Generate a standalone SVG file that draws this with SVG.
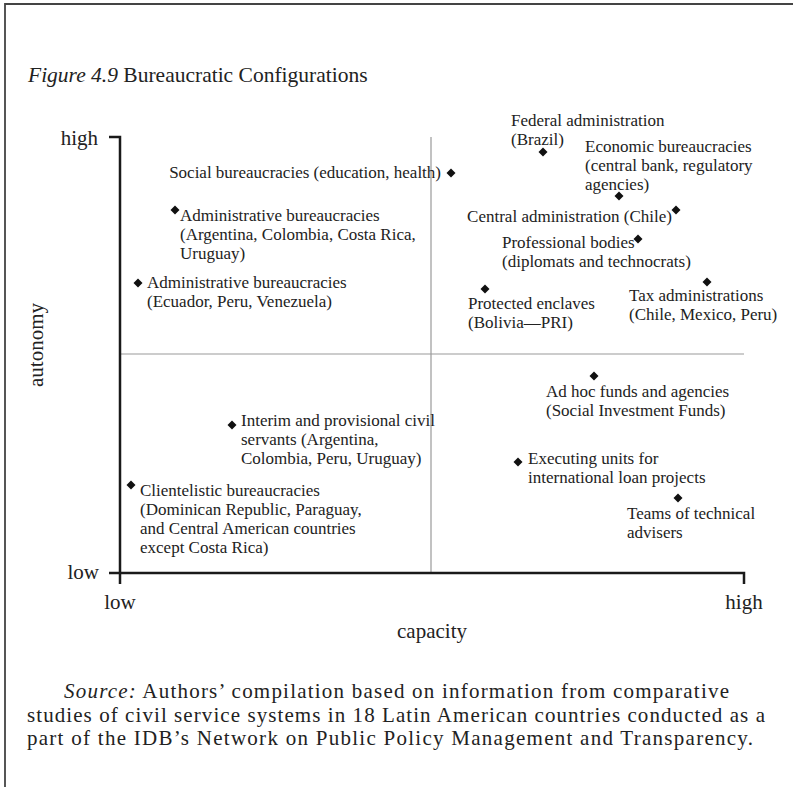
<svg xmlns="http://www.w3.org/2000/svg" width="793" height="787" viewBox="0 0 793 787">
<style>
text{font-family:"Liberation Serif","Times New Roman",serif;fill:#222}
.t{font-size:17px}
.ax{font-size:21px}
.ti{font-size:21.5px}
.src{font-size:21px}
.axis{stroke:#1a1a1a;stroke-width:2.5;fill:none}
.grid{stroke:#999;stroke-width:1.2;fill:none}
.frame{stroke:#444;stroke-width:1.8;fill:none}
</style>
<defs>
<path id="dia" d="M0,-4.5 L4.5,0 L0,4.5 L-4.5,0Z" fill="#111"/>
</defs>
<rect width="793" height="787" fill="#fff"/>
<path class="frame" d="M793,4 H5 V787"/>
<text x="28" y="82" class="ti"><tspan font-style="italic">Figure 4.9</tspan> Bureaucratic Configurations</text>

<g id="axes">
<line class="grid" x1="431" y1="137" x2="431" y2="573"/>
<line class="grid" x1="120" y1="354" x2="744" y2="354"/>
<path class="axis" d="M109,137 H120 V584"/>
<path class="axis" d="M109,573 H744 V584"/>
<text class="ax" x="98" y="145" text-anchor="end">high</text>
<text class="ax" x="99" y="579" text-anchor="end">low</text>
<text class="ax" x="120" y="609" text-anchor="middle">low</text>
<text class="ax" x="744" y="609" text-anchor="middle">high</text>
<text class="ax" x="432" y="638" text-anchor="middle">capacity</text>
<text class="ax" transform="translate(43,345) rotate(-90)" text-anchor="middle">autonomy</text>
</g>

<g id="federal"><use href="#dia" x="543" y="152"/><text class="t" x="511" y="126">Federal administration<tspan x="511" dy="19">(Brazil)</tspan></text></g>
<g id="economic"><use href="#dia" x="619" y="196"/><text class="t" x="585" y="152">Economic bureaucracies<tspan x="585" dy="19">(central bank, regulatory</tspan><tspan x="585" dy="19">agencies)</tspan></text></g>
<g id="social"><use href="#dia" x="451" y="173"/><text class="t" x="441" y="178" text-anchor="end">Social bureaucracies (education, health)</text></g>
<g id="admin1"><use href="#dia" x="175" y="210"/><text class="t" x="180" y="221">Administrative bureaucracies<tspan x="180" dy="19">(Argentina, Colombia, Costa Rica,</tspan><tspan x="180" dy="19">Uruguay)</tspan></text></g>
<g id="admin2"><use href="#dia" x="138" y="283"/><text class="t" x="147" y="288">Administrative bureaucracies<tspan x="147" dy="19">(Ecuador, Peru, Venezuela)</tspan></text></g>
<g id="central"><use href="#dia" x="676" y="210"/><text class="t" x="672" y="222" text-anchor="end">Central administration (Chile)</text></g>
<g id="professional"><use href="#dia" x="638" y="239"/><text class="t" x="502" y="248">Professional bodies<tspan x="502" dy="19">(diplomats and technocrats)</tspan></text></g>
<g id="protected"><use href="#dia" x="485" y="289"/><text class="t" x="468" y="309">Protected enclaves<tspan x="468" dy="19">(Bolivia—PRI)</tspan></text></g>
<g id="tax"><use href="#dia" x="707" y="282"/><text class="t" x="629" y="301">Tax administrations<tspan x="629" dy="19">(Chile, Mexico, Peru)</tspan></text></g>
<g id="adhoc"><use href="#dia" x="594" y="376"/><text class="t" x="546" y="397">Ad hoc funds and agencies<tspan x="546" dy="19">(Social Investment Funds)</tspan></text></g>
<g id="interim"><use href="#dia" x="232" y="425"/><text class="t" x="241" y="426">Interim and provisional civil<tspan x="241" dy="19">servants (Argentina,</tspan><tspan x="241" dy="19">Colombia, Peru, Uruguay)</tspan></text></g>
<g id="executing"><use href="#dia" x="518" y="462"/><text class="t" x="528" y="464">Executing units for<tspan x="528" dy="19">international loan projects</tspan></text></g>
<g id="clientelistic"><use href="#dia" x="131" y="485"/><text class="t" x="140" y="496">Clientelistic bureaucracies<tspan x="140" dy="19">(Dominican Republic, Paraguay,</tspan><tspan x="140" dy="19">and Central American countries</tspan><tspan x="140" dy="19">except Costa Rica)</tspan></text></g>
<g id="teams"><use href="#dia" x="678" y="498"/><text class="t" x="627" y="519">Teams of technical<tspan x="627" dy="19">advisers</tspan></text></g>

<g id="source">
<text class="src" x="64" y="698" textLength="665" lengthAdjust="spacing"><tspan font-style="italic">Source:</tspan> Authors’ compilation based on information from comparative</text>
<text class="src" x="27" y="721.5" textLength="738" lengthAdjust="spacing">studies of civil service systems in 18 Latin American countries conducted as a</text>
<text class="src" x="27" y="745" textLength="726" lengthAdjust="spacing">part of the IDB’s Network on Public Policy Management and Transparency.</text>
</g>
</svg>
